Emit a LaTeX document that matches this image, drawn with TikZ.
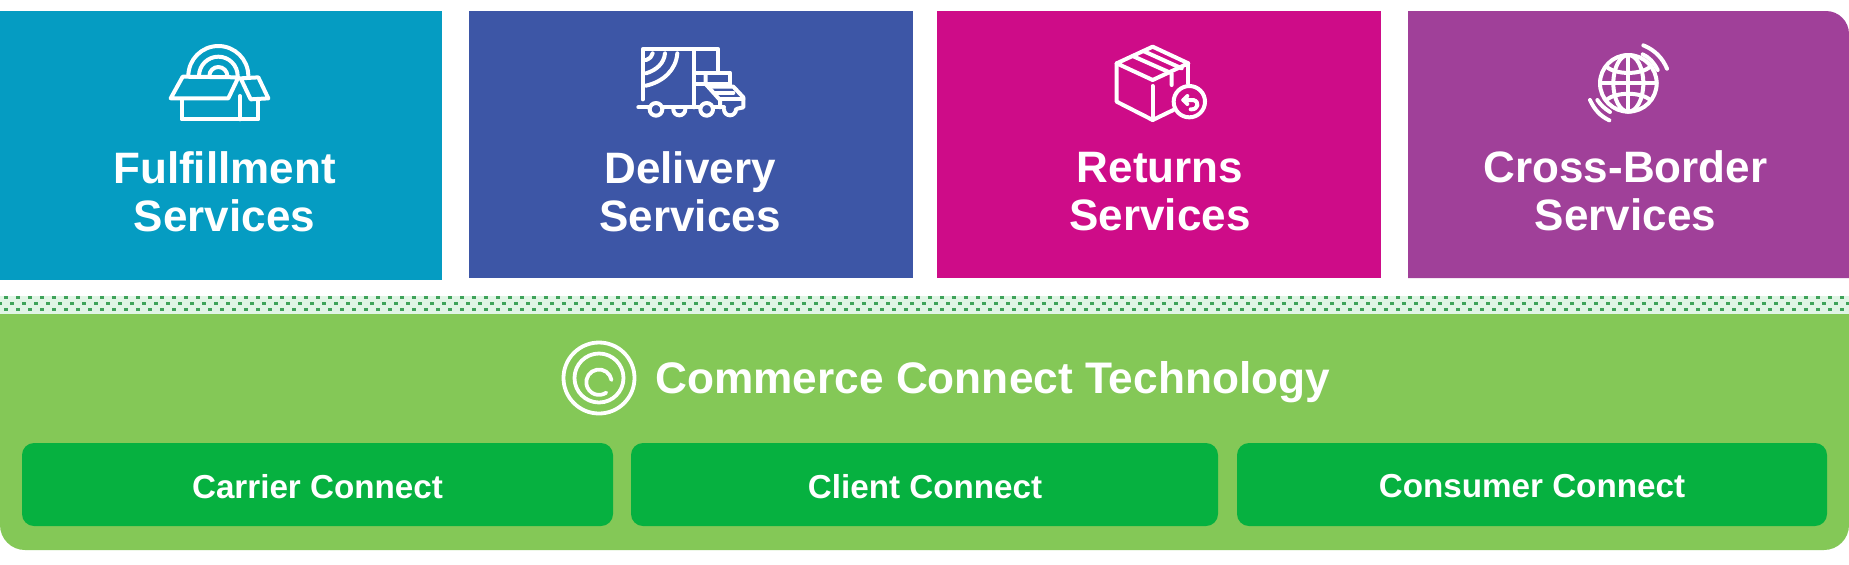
\documentclass[tikz,border=0pt]{standalone}
\usepackage{fontspec}
\setmainfont{Liberation Sans}
\definecolor{cfulfil}{HTML}{059CC2}
\definecolor{cdeliv}{HTML}{3D56A6}
\definecolor{creturn}{HTML}{CE0C88}
\definecolor{ccross}{HTML}{A04099}
\definecolor{cgreen}{HTML}{84C857}
\definecolor{cdark}{HTML}{06B140}
\definecolor{cpale}{HTML}{E0F5E5}
\definecolor{cdot}{HTML}{3FA35A}
\tikzset{
  svc/.style={text=white,font=\fontsize{22}{24}\selectfont\bfseries,align=center,inner sep=0pt},
  tech/.style={text=white,font=\fontsize{22.1}{24}\selectfont\bfseries,inner sep=0pt},
  sub/.style={text=white,font=\fontsize{16.6}{18}\selectfont\bfseries,inner sep=0pt},
  ico/.style={draw=white,line width=2pt,line join=round,line cap=round},
  zoomed/.style={x=0.16667pt,y=-0.16667pt}
}
\begin{document}
\begin{tikzpicture}[x=0.5pt,y=-0.5pt]
\useasboundingbox (0,0) rectangle (1849,564);
\fill[white] (0,0) rectangle (1849,564);
% service panels
\fill[cfulfil] (0,11) rectangle (442,280);
\fill[cdeliv] (469,11) rectangle (913,278);
\fill[creturn] (937,11) rectangle (1381,278);
\fill[ccross] (1408,11) -- (1826,11) arc[start angle=-90,end angle=0,radius=23] -- (1849,278) -- (1408,278) -- cycle;
% dotted band
\fill[cpale] (0,296) rectangle (1849,314);
\foreach \k in {0,...,154}{
  \fill[cdot] ({6+12*\k-1.7},295.8) rectangle +(3.4,3.4);
  \fill[cdot] ({12*\k-1.7},301.8) rectangle +(3.4,3.4);
  \fill[cdot] ({6+12*\k-1.7},307.8) rectangle +(3.4,3.4);
}
% platform
\fill[cgreen] (0,314) -- (1849,314) -- (1849,525) arc[start angle=0,end angle=90,radius=25] -- (25,550) arc[start angle=90,end angle=180,radius=25] -- cycle;
\fill[cdark,rounded corners=6pt] (22,443) rectangle (613,526);
\fill[cdark,rounded corners=6pt] (631,443) rectangle (1218,526);
\fill[cdark,rounded corners=6pt] (1237,443) rectangle (1827,526);
% texts
\node[svc] (t1) at (224.5,192) {Fulfillment\\Services};
\node[svc] (t2) at (690,192) {Delivery\\Services};
\node[svc] (t3) at (1160,192) {Returns\\Services};
\node[svc] (t4) at (1625.5,191) {Cross-Border\\Services};
\node[tech,anchor=west] (t5) at (655,382) {Commerce Connect Technology};
\node[sub] (t6) at (317.5,486.5) {Carrier Connect};
\node[sub] (t7) at (925,486.5) {Client Connect};
\node[sub] (t8) at (1532,486.5) {Consumer Connect};
% fulfilment icon
\begin{scope}[shift={(130,20)},zoomed]
\draw[ico] (158,170) -- (325,172) -- (295,235) -- (122,235) -- cycle;
\draw[ico] (332,175) -- (385,172) -- (415,235) -- (362,238) -- cycle;
\draw[ico] (155,238) -- (155,298) -- (385,298) -- (385,238);
\draw[ico] (330,228) -- (330,298);
\draw[ico] (175,168) arc[start angle=180,end angle=0,x radius=90,y radius=-90];
\draw[ico] (207,168) arc[start angle=180,end angle=0,x radius=58,y radius=-58];
\draw[ico] (238,168) arc[start angle=180,end angle=0,x radius=27,y radius=-27];
\end{scope}
% truck icon
\begin{scope}[shift={(620,20)},zoomed]
\draw[ico] (68,238) -- (68,88) -- (295,88) -- (295,155);
\draw[ico] (98,100) .. controls (96,110) and (90,115) .. (78,120);
\draw[ico] (135,100) .. controls (132,130) and (110,150) .. (78,160);
\draw[ico] (172,100) .. controls (168,150) and (130,185) .. (78,197);
\draw[ico] (222,88) -- (222,262);
\draw[ico] (222,158) -- (330,158) -- (330,195);
\draw[ico] (222,192) -- (330,192);
\draw[ico] (257,162) -- (257,192) -- (300,240) -- (300,262);
\draw[ico] (275,200) -- (340,200) -- (370,232) -- (370,262) -- (352,266);
\draw[ico] (285,218) -- (340,218);
\draw[ico] (300,236) -- (370,236);
\draw[ico] (55,262) -- (88,262);
\draw[ico] (128,262) -- (240,262);
\draw[ico] (280,262) -- (312,262);
\draw[ico] (108,268) circle[radius=19];
\draw[ico] (260,268) circle[radius=19];
\draw[ico] (160,268) arc[start angle=180,end angle=0,x radius=18,y radius=18];
\draw[ico] (312,268) arc[start angle=180,end angle=0,x radius=18,y radius=18];
\end{scope}
% returns icon
\begin{scope}[shift={(1090,20)},zoomed]
\draw[ico] (188,80) -- (80,130) -- (188,180) -- (295,130) -- cycle;
\draw[ico] (80,130) -- (80,245) -- (188,300) -- (250,270);
\draw[ico] (295,130) -- (295,190);
\draw[ico] (188,198) -- (188,300);
\draw[ico] (128,108) -- (245,160) -- (245,195);
\draw[ico] (160,93) -- (275,145);
\draw[ico] (298,245) circle[radius=47];
\draw[ico] (280,240) -- (310,240) .. controls (330,245) and (325,270) .. (302,268);
\draw[ico] (292,228) -- (280,240) -- (292,252);
\end{scope}
% cross-border icon
\begin{scope}[shift={(1560,20)},zoomed]
\draw[ico] (205,190) circle[radius=85];
\draw[ico] (205,190) ellipse[x radius=45,y radius=85];
\draw[ico] (205,105) -- (205,275);
\draw[ico] (120,190) -- (290,190);
\draw[ico] (138,140) .. controls (170,165) and (240,165) .. (272,140);
\draw[ico] (138,240) .. controls (170,215) and (240,215) .. (272,240);
\draw[ico] (250,76) .. controls (285,90) and (308,115) .. (321,146);
\draw[ico] (248,103) .. controls (268,112) and (282,128) .. (293,150);
\draw[ico] (90,240) .. controls (103,268) and (120,288) .. (148,301);
\draw[ico] (112,240) .. controls (122,255) and (133,265) .. (150,276);
\end{scope}
% platform icon
\draw[ico,line width=1.9pt] (599,378) circle[radius=35.5];
\draw[ico,line width=1.9pt] (599,378) circle[radius=24.5];
\draw[ico,line width=1.9pt] (611.5,380) arc[start angle=-10,end angle=-305,radius=12.7];
\end{tikzpicture}
\end{document}
